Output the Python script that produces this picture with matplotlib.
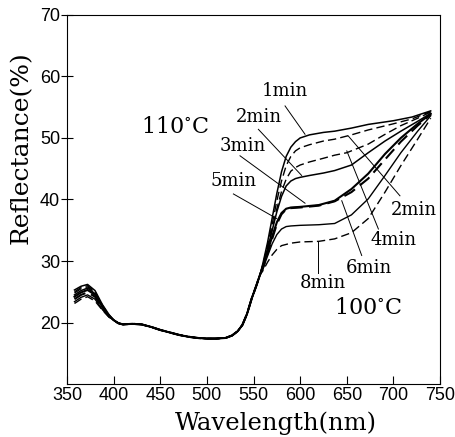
"""Reflectance spectra after heat treatment at 110 and 100 degC."""
import matplotlib
matplotlib.use("Agg")
import matplotlib.pyplot as plt

plt.rcParams.update({
    "font.family": "DejaVu Serif",
    "mathtext.fontset": "dejavuserif",
    "axes.linewidth": 0.8,
})

# ------------------------------------------------------------------ data
# shared start of every curve (the bundle near 370 nm)
wl_head = [358, 365, 372, 380, 388, 395]
head = {
    "110-1": [25.3, 25.9, 26.2, 25.2, 22.9, 21.3],
    "100-2": [25.0, 25.7, 26.0, 25.0, 22.8, 21.2],
    "100-4": [24.8, 25.5, 25.8, 24.9, 22.7, 21.2],
    "110-2": [24.5, 25.2, 25.6, 24.7, 22.6, 21.1],
    "110-3": [24.2, 24.9, 25.3, 24.5, 22.5, 21.1],
    "100-6": [23.8, 24.5, 24.9, 24.2, 22.3, 21.0],
    "110-5": [23.4, 24.1, 24.5, 23.8, 22.1, 20.9],
    "100-8": [23.1, 23.8, 24.2, 23.5, 22.0, 20.9],
}

# common trough, 400-557 nm
wl_base = [400, 405, 410, 420, 430, 440, 450, 460, 470, 480, 490, 500,
           510, 520, 527, 533, 538, 543, 548, 553, 557]
r_base = [20.4, 19.9, 19.7, 19.8, 19.7, 19.3, 18.8, 18.4, 18.0, 17.7, 17.5,
          17.4, 17.4, 17.5, 17.9, 18.6, 19.6, 21.4, 23.9, 26.0, 27.8]

# rising edge and plateau, per curve
wl_rise = {
    "110-1": [560, 565, 570, 575, 580, 585, 590, 595, 600, 610, 625, 637,
              655, 673, 700, 720, 740],
    "100-2": [560, 565, 570, 575, 580, 585, 590, 595, 600, 610, 625, 637,
              655, 673, 700, 720, 740],
    "100-4": [560, 565, 570, 575, 580, 585, 590, 595, 600, 610, 625, 637,
              650, 673, 690, 708, 726, 740],
    "110-2": [560, 565, 570, 575, 580, 585, 590, 595, 600, 610, 625, 637,
              655, 673, 691, 708, 726, 740],
    "110-3": [560, 565, 570, 575, 580, 585, 590, 600, 620, 637, 655, 673,
              691, 708, 726, 740],
    "100-6": [560, 565, 570, 575, 580, 585, 590, 600, 620, 637, 655, 673,
              691, 708, 726, 740],
    "110-5": [560, 565, 570, 575, 580, 585, 590, 600, 620, 637, 655, 673,
              691, 708, 726, 740],
    "100-8": [560, 565, 570, 575, 580, 590, 600, 620, 637, 655, 673, 691,
              708, 726, 740],
}
r_rise = {
    "110-1": [29.6, 33.0, 37.0, 41.0, 44.5, 47.0, 48.5, 49.4, 50.0, 50.5,
              50.9, 51.1, 51.6, 52.2, 52.8, 53.4, 54.4],
    "100-2": [29.4, 32.5, 36.0, 39.8, 43.0, 45.5, 47.0, 47.9, 48.4, 48.9,
              49.5, 49.8, 50.5, 51.3, 52.3, 53.1, 54.3],
    "100-4": [29.2, 32.0, 35.2, 38.5, 41.3, 43.3, 44.6, 45.2, 45.6, 46.1,
              46.7, 47.2, 47.6, 49.0, 50.5, 52.0, 53.2, 54.2],
    "110-2": [29.3, 32.0, 35.0, 38.0, 40.5, 42.2, 43.0, 43.4, 43.6, 43.9,
              44.3, 44.7, 45.6, 47.6, 49.5, 51.1, 52.7, 54.0],
    "110-3": [29.0, 31.5, 34.0, 36.3, 37.8, 38.5, 38.7, 38.8, 39.1, 39.8,
              41.7, 44.2, 47.4, 50.0, 52.3, 53.9],
    "100-6": [28.8, 31.2, 33.6, 36.0, 37.6, 38.4, 38.6, 38.7, 39.0, 39.7,
              41.2, 43.4, 46.5, 49.4, 52.0, 53.8],
    "110-5": [28.7, 30.8, 32.8, 34.3, 35.2, 35.6, 35.7, 35.8, 35.9, 36.1,
              37.5, 40.1, 43.9, 47.6, 51.1, 53.6],
    "100-8": [28.4, 29.8, 31.0, 31.9, 32.5, 32.9, 33.1, 33.2, 33.6, 34.6,
              36.9, 41.2, 45.5, 49.8, 53.2],
}

# labels: text, text centre, leader start, leader end (on curve)
label_text = ["1min", "2min", "3min", "5min", "2min", "4min", "6min", "8min"]
label_xy = [(584, 57.7), (556, 53.4), (538, 48.7), (529, 43.0),
            (722, 38.3), (700, 33.4), (674, 28.8), (624, 26.4)]
leader_from = [(583.8, 55.2), (555.2, 51.4), (535.5, 47.1), (528.4, 40.9),
               (707.0, 40.6), (683.9, 35.2), (666.0, 30.9), (619.5, 28.0)]
leader_to = [(605.2, 50.6), (601.6, 43.9), (605.2, 39.4), (574.9, 36.9),
             (651.7, 50.3), (650.0, 47.9), (644.6, 39.8), (619.5, 33.1)]

# ---------------------------------------------------------------- figure
styles = {
    "110-1": dict(ls="-", lw=1.1),
    "100-2": dict(ls=(0, (6, 3)), lw=1.0),
    "100-4": dict(ls=(0, (6, 3)), lw=1.0),
    "110-2": dict(ls="-", lw=1.1),
    "110-3": dict(ls="-", lw=1.5),
    "100-6": dict(ls=(0, (6, 3)), lw=1.5),
    "110-5": dict(ls="-", lw=1.0),
    "100-8": dict(ls=(0, (6, 3)), lw=1.0),
}

fig = plt.figure(figsize=(4.56, 4.37), dpi=100)
ax = fig.add_axes([0.147, 0.121, 0.818, 0.845])

for key in head:
    x = wl_head + wl_base + wl_rise[key]
    y = head[key] + r_base + r_rise[key]
    ax.plot(x, y, color="black", solid_joinstyle="round", **styles[key])

for txt, xy, p0, p1 in zip(label_text, label_xy, leader_from, leader_to):
    ax.plot([p0[0], p1[0]], [p0[1], p1[1]], color="black", lw=0.7)
    ax.text(xy[0], xy[1], txt, ha="center", va="center", fontsize=13)

ax.text(466, 51.8, r"110$^{\circ}$C", ha="center", va="center", fontsize=16)
ax.text(673, 22.3, r"100$^{\circ}$C", ha="center", va="center", fontsize=16)

ax.set_xlim(350, 750)
ax.set_ylim(10, 70)
ax.set_xticks(range(350, 751, 50))
ax.set_yticks(range(20, 71, 10))
ax.tick_params(axis="x", direction="in", length=6, width=0.8, pad=2,
               labelsize=13)
ax.tick_params(axis="y", direction="inout", length=8, width=0.8, pad=1,
               labelsize=13)
for lab in ax.get_xticklabels() + ax.get_yticklabels():
    lab.set_family("Liberation Sans")

ax.set_xlabel("Wavelength(nm)", fontsize=17.5)
ax.set_ylabel("Reflectance(%)", fontsize=18)
ax.xaxis.set_label_coords(0.56, -0.075)
ax.yaxis.set_label_coords(-0.092, 0.64)

fig.savefig("out.png", dpi=100)
